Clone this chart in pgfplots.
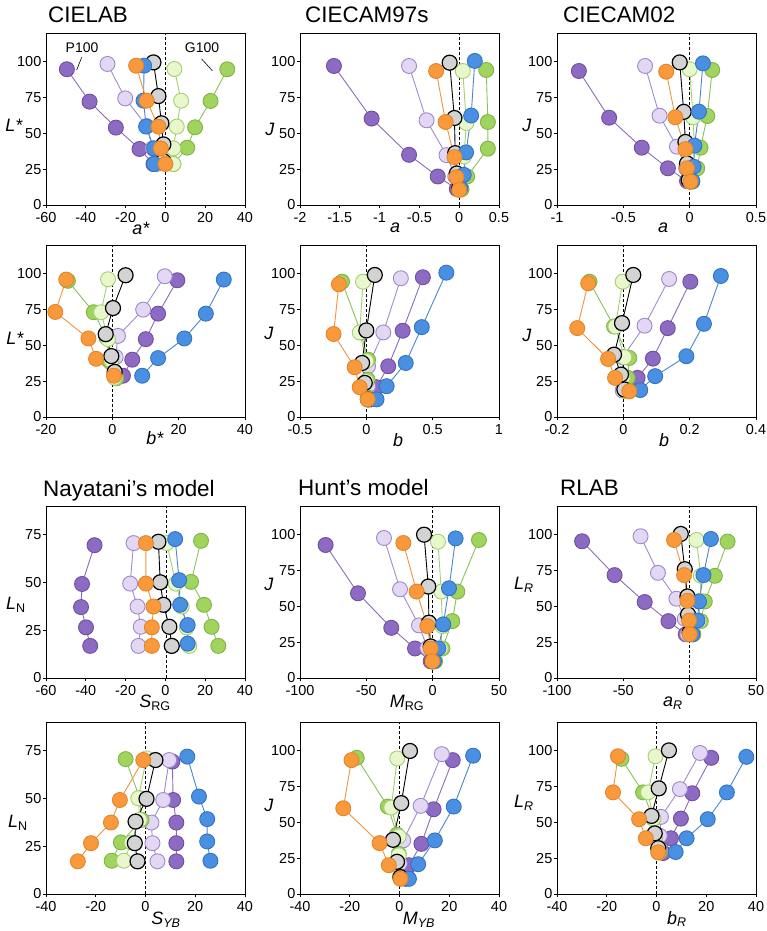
\documentclass[border=0pt]{standalone}
\usepackage{fontspec}
\setmainfont{Liberation Sans}
\usepackage{pgfplots}
\pgfplotsset{compat=1.18}
\definecolor{dpf}{HTML}{8E6BC2}\definecolor{dpe}{HTML}{6E4F9E}\definecolor{dpl}{HTML}{8A6DB5}
\definecolor{lpf}{HTML}{E3D7F3}\definecolor{lpe}{HTML}{9D89C9}\definecolor{lpl}{HTML}{A08CC8}
\definecolor{orf}{HTML}{F89A3C}\definecolor{ore}{HTML}{E6842A}\definecolor{orl}{HTML}{F0923E}
\definecolor{blf}{HTML}{4A90E2}\definecolor{ble}{HTML}{3373BF}\definecolor{bll}{HTML}{4A86C8}
\definecolor{grf}{HTML}{A0D45E}\definecolor{gre}{HTML}{7FB545}\definecolor{grl}{HTML}{8CC05A}
\definecolor{lgf}{HTML}{E8F8CC}\definecolor{lge}{HTML}{A5CF70}\definecolor{lgl}{HTML}{A5CF70}
\definecolor{bkf}{HTML}{D3D3D3}
\pgfplotsset{
 ser/.style n args={3}{color=#1, line width=0.9bp, mark=*, mark size=7.5bp, mark options={solid, fill=#2, draw=#3, line width=0.9bp}},
 dp/.style={ser={dpl}{dpf}{dpe}},
 lp/.style={ser={lpl}{lpf}{lpe}},
 or/.style={ser={orl}{orf}{ore}},
 bl/.style={ser={bll}{blf}{ble}},
 gr/.style={ser={grl}{grf}{gre}},
 lg/.style={ser={lgl}{lgf}{lge}},
 bk/.style={color=black, line width=0.9bp, mark=*, mark size=7.5bp, mark options={solid, fill=bkf, draw=black, line width=1.2bp}},
 zl/.style={black, dash pattern=on 3bp off 2bp, line width=0.8bp, mark=none},
 panel/.style={scale only axis, width=199bp, height=172bp, clip=false, scaled ticks=false,
   tick align=outside, xtick pos=left, ytick pos=left, major tick length=3bp,
   axis line style={line width=0.7bp, black}, tick style={line width=0.7bp, black},
   ticklabel style={font=\fontsize{14.5}{16}\selectfont, inner sep=1.5bp},
   xticklabel style={yshift=-3bp},
   /pgf/number format/assume math mode=true, anchor=south west},
}
\newcommand{\lab}{\fontsize{18}{20}\selectfont}
\newcommand{\ttl}{\fontsize{22.5}{24}\selectfont}
\begin{document}
\begin{tikzpicture}
\path[use as bounding box] (0,0) rectangle (767bp,-931bp);
% ---------------- Row 1 ----------------
\begin{axis}[panel, at={(46bp,-205bp)}, xmin=-60, xmax=40, ymin=0, ymax=120, xtick={-60,-40,-20,0,20,40}, ytick={0,25,50,75,100}]
\addplot[dp] coordinates {(-49.5,94.7)(-38.1,72.1)(-24.9,54.0)(-13.0,39.1)(-6,28.6)};
\addplot[lp] coordinates {(-29.1,98.4)(-20.2,74.4)(-9.4,55.1)(-6.4,39.5)(-4.3,28.6)};
\addplot[gr] coordinates {(31.1,94.7)(22.7,72.6)(14.9,54.2)(11.0,40.0)(4.0,28.6)};
\addplot[lg] coordinates {(4.5,94.9)(7.9,72.8)(5.7,54.7)(4.0,39.5)(4.0,28.6)};
\addplot[bk] coordinates {(-6.0,99.5)(-3.5,76.0)(-2.0,57.0)(-1.0,42.3)(-1.0,30.5)};
\addplot[bl] coordinates {(-10.7,97.2)(-11.0,72.8)(-9.7,54.7)(-5.7,39.5)(-5.7,28.6)};
\addplot[or] coordinates {(-14.7,97.2)(-9.4,72.8)(-3.5,54.7)(-2.3,39.5)(0,28.6)};
\addplot[zl] coordinates {(0,0)(0,120)};
\end{axis}
\begin{axis}[panel, at={(300bp,-205bp)}, xmin=-2, xmax=0.5, ymin=0, ymax=120, xtick={-2,-1.5,-1,-0.5,0,0.5}, ytick={0,25,50,75,100}]
\addplot[dp] coordinates {(-1.574,97.0)(-1.10,60.3)(-0.63,35.0)(-0.27,19.9)(-0.03,11.2)};
\addplot[lp] coordinates {(-0.63,97.0)(-0.41,59.1)(-0.16,34.8)(-0.05,19.9)(0,11.7)};
\addplot[gr] coordinates {(0.34,94.2)(0.36,57.9)(0.36,39.3)(0.10,19.9)(0.03,11)};
\addplot[lg] coordinates {(0.045,93.5)(0.09,57.2)(0.06,33.9)(0.06,21)(0.015,11)};
\addplot[bk] coordinates {(-0.12,99.3)(-0.06,60.7)(-0.05,36.2)(-0.03,22)(0,11.7)};
\addplot[bl] coordinates {(0.196,100.5)(0.15,62.4)(0.086,36.7)(0.057,21)(0.015,11.7)};
\addplot[or] coordinates {(-0.29,93.5)(-0.17,57.9)(-0.06,33.4)(-0.035,19.4)(0,10.5)};
\addplot[zl] coordinates {(0,0)(0,120)};
\end{axis}
\begin{axis}[panel, at={(557bp,-205bp)}, xmin=-1, xmax=0.5, ymin=0, ymax=120, xtick={-1,-0.5,0,0.5}, ytick={0,25,50,75,100}]
\addplot[dp] coordinates {(-0.835,93.5)(-0.607,60.9)(-0.361,40.0)(-0.164,25.6)(-0.02,16.7)};
\addplot[lp] coordinates {(-0.336,97)(-0.227,62.3)(-0.096,40.7)(-0.027,25.6)(-0.007,16.7)};
\addplot[gr] coordinates {(0.17,94.2)(0.133,62.1)(0.082,40)(0.057,25.6)(0.02,16.3)};
\addplot[lg] coordinates {(0,94.7)(0.026,61.2)(0.036,40.7)(0.03,25.6)(0.006,16.3)};
\addplot[bk] coordinates {(-0.075,99.5)(-0.045,65)(-0.032,44)(-0.02,29)(-0.007,17.4)};
\addplot[bl] coordinates {(0.1,98.8)(0.07,65.1)(0.036,41.4)(0.03,26.7)(0.02,16.7)};
\addplot[or] coordinates {(-0.177,93)(-0.108,61.2)(-0.032,39)(-0.02,25.6)(0.006,16.3)};
\addplot[zl] coordinates {(0,0)(0,120)};
\end{axis}
% ---------------- Row 2 ----------------
\begin{axis}[panel, at={(46bp,-417bp)}, xmin=-20, xmax=40, ymin=0, ymax=120, xtick={-20,0,20,40}, ytick={0,25,50,75,100}]
\addplot[dp] coordinates {(19.6,95.4)(13.8,72.1)(10.1,54.3)(6.0,40.0)(3.2,28.8)};
\addplot[lp] coordinates {(15.8,98.2)(9.3,74.9)(1.7,56.6)(1.0,41.8)(0.7,30.4)};
\addplot[gr] coordinates {(-13.4,95)(-5.6,73.1)(-1.8,55.5)(-0.8,39.5)(1.2,27)};
\addplot[lg] coordinates {(-1.3,96.1)(-3.4,73.1)(-1.3,54.3)(-0.3,39.5)(0.7,27.4)};
\addplot[bk] coordinates {(4.0,98.9)(0.2,76.0)(-2.0,57.8)(-0.3,42.5)(0.7,31.5)};
\addplot[bl] coordinates {(33.6,95.9)(28.2,72.1)(21.7,54.8)(13.8,41.1)(9.0,28.8)};
\addplot[or] coordinates {(-13.9,95.9)(-17.2,73.3)(-7.2,54.8)(-4.9,40.6)(0.5,28.8)};
\addplot[zl] coordinates {(0,0)(0,120)};
\end{axis}
\begin{axis}[panel, at={(300bp,-417bp)}, xmin=-0.5, xmax=1, ymin=0, ymax=120, xtick={-0.5,0,0.5,1}, ytick={0,25,50,75,100}]
\addplot[dp] coordinates {(0.426,97.5)(0.274,60.2)(0.165,35.4)(0.077,20.8)(0.039,12.3)};
\addplot[lp] coordinates {(0.26,96.8)(0.128,59)(0.013,35.4)(0.013,21.5)(0.026,12.3)};
\addplot[gr] coordinates {(-0.183,94.4)(-0.041,59)(0.013,40)(0.01,26)(0.02,13.4)};
\addplot[lg] coordinates {(-0.025,94.4)(-0.05,59)(0,38.9)(0,25)(0.01,13)};
\addplot[bk] coordinates {(0.064,99.1)(0,60.4)(-0.032,37.7)(-0.012,23.8)(0.013,12.3)};
\addplot[bl] coordinates {(0.603,100.7)(0.418,62.7)(0.297,37.7)(0.153,21.5)(0.077,12.3)};
\addplot[or] coordinates {(-0.207,92.6)(-0.247,57.9)(-0.088,34.7)(-0.05,20.8)(0.01,12.3)};
\addplot[zl] coordinates {(0,0)(0,120)};
\end{axis}
\begin{axis}[panel, at={(557bp,-417bp)}, xmin=-0.2, xmax=0.4, ymin=0, ymax=120, xtick={-0.2,0,0.2,0.4}, ytick={0,25,50,75,100}]
\addplot[dp] coordinates {(0.202,94.4)(0.134,62)(0.089,40.7)(0.043,27.3)(0.013,18)};
\addplot[lp] coordinates {(0.138,96.3)(0.064,63.7)(-0.002,41.7)(-0.002,28.5)(-0.002,18.5)};
\addplot[gr] coordinates {(-0.102,94.4)(-0.028,63.2)(0.018,41.2)(0.013,27.3)(0.018,18)};
\addplot[lg] coordinates {(-0.002,94.4)(-0.024,63.2)(0.003,41.7)(-0.002,27.3)(0.008,18)};
\addplot[bk] coordinates {(0.03,99.1)(-0.004,65.5)(-0.028,43.5)(-0.007,29.6)(0.003,19.2)};
\addplot[bl] coordinates {(0.294,98.4)(0.243,65)(0.19,42.4)(0.096,28.5)(0.051,18.8)};
\addplot[or] coordinates {(-0.106,93.3)(-0.139,62.0)(-0.046,40.5)(-0.025,27.3)(0.018,18)};
\addplot[zl] coordinates {(0,0)(0,120)};
\end{axis}
% ---------------- Row 3 ----------------
\begin{axis}[panel, at={(46bp,-678bp)}, xmin=-60, xmax=40, ymin=0, ymax=90, xtick={-60,-40,-20,0,20,40}, ytick={0,25,50,75}]
\addplot[dp] coordinates {(-35.6,69.5)(-41.9,49.2)(-42.4,37.1)(-39.9,26.5)(-37.8,16.8)};
\addplot[lp] coordinates {(-16.0,70.6)(-17.7,49.4)(-14.0,37.4)(-12.4,26.8)(-13.5,16.8)};
\addplot[gr] coordinates {(17.9,71.8)(12.9,50.3)(19.4,38.3)(23.2,26.8)(26.6,16.8)};
\addplot[lg] coordinates {(0.7,70.6)(5.2,49.4)(8.2,37.4)(10.7,26.5)(12.0,16.8)};
\addplot[bk] coordinates {(-3.5,71.3)(-2.6,50.1)(-1.0,38.3)(2.0,26.8)(3.2,16.8)};
\addplot[bl] coordinates {(4.9,72.7)(6.9,51.2)(7.4,38.3)(11.2,27.7)(11.2,18)};
\addplot[or] coordinates {(-9.8,70.6)(-9.8,49.4)(-6.0,37.4)(-6.8,26.5)(-6.8,16.8)};
\addplot[zl] coordinates {(0.5,0)(0.5,90)};
\end{axis}
\begin{axis}[panel, at={(300bp,-678bp)}, xmin=-100, xmax=50, ymin=0, ymax=120, xtick={-100,-50,0,50}, ytick={0,25,50,75,100}]
\addplot[dp] coordinates {(-80.7,92.8)(-56.3,59.1)(-31.2,35.0)(-13.3,20.6)(-1.5,11.7)};
\addplot[lp] coordinates {(-36.7,97.7)(-24.6,61.9)(-10.3,36.7)(-4.0,21.0)(-0.8,11.7)};
\addplot[gr] coordinates {(34.9,96.3)(18.6,60.3)(14.8,39.7)(7.3,20.6)(1.8,11.7)};
\addplot[lg] coordinates {(4.0,95.1)(6.5,60.3)(7.3,36.2)(6.0,20.6)(1.0,11.7)};
\addplot[bk] coordinates {(-6.5,100)(-3.3,63.8)(-2.8,38.6)(-1.5,22)(-0.3,11.7)};
\addplot[bl] coordinates {(17.3,97.4)(12.3,62.6)(8.0,37.4)(4.3,20.6)(1.0,11.7)};
\addplot[or] coordinates {(-22.1,94.2)(-12.1,60.3)(-4.0,36.2)(-1.5,20.6)(-0.3,11.7)};
\addplot[zl] coordinates {(0,0)(0,120)};
\end{axis}
\begin{axis}[panel, at={(557bp,-678bp)}, xmin=-100, xmax=50, ymin=0, ymax=120, xtick={-100,-50,0,50}, ytick={0,25,50,75,100}]
\addplot[dp] coordinates {(-81.1,95.4)(-56.6,71.8)(-33.9,53.0)(-16.0,39.7)(-2.9,30.5)};
\addplot[lp] coordinates {(-37.0,98.9)(-23.9,73.4)(-10.0,55.3)(-3.7,41.3)(-1.7,30.5)};
\addplot[gr] coordinates {(28.6,95.2)(19.0,71.3)(11.4,53.4)(8.4,39.7)(2.8,30.5)};
\addplot[lg] coordinates {(5.1,96.3)(8.4,71.3)(7.9,53.9)(7.1,39.7)(2.1,30.5)};
\addplot[bk] coordinates {(-6.7,100.5)(-3.7,75.9)(-1.7,56.9)(-1.2,44.3)(0,31.7)};
\addplot[bl] coordinates {(16.0,97.0)(10.4,71.8)(7.1,53.4)(5.9,40.1)(2.1,30.5)};
\addplot[or] coordinates {(-11.8,96.3)(-4.2,71.8)(-1.7,53.9)(-0.4,40.1)(0,30.5)};
\addplot[zl] coordinates {(0,0)(0,120)};
\end{axis}
% ---------------- Row 4 ----------------
\begin{axis}[panel, at={(46bp,-894bp)}, xmin=-40, xmax=40, ymin=0, ymax=90, xtick={-40,-20,0,20,40}, ytick={0,25,50,75}]
\addplot[dp] coordinates {(10.8,69.3)(11.1,49.2)(12.4,37.4)(12.4,26.6)(12.4,17.1)};
\addplot[lp] coordinates {(9.5,70.1)(7.1,49.2)(2.4,37.4)(2.8,26.6)(4.8,17.1)};
\addplot[gr] coordinates {(-8.0,70.6)(-2.3,50.1)(-1.6,38.8)(-9.9,27.0)(-13.6,17.4)};
\addplot[lg] coordinates {(0.4,71.0)(-2.9,50.1)(-2.3,38.8)(-5.6,27.0)(-8.7,17.4)};
\addplot[bk] coordinates {(4.0,70.1)(0.4,49.8)(-4.0,37.9)(-4.3,26.6)(-3.2,17.1)};
\addplot[bl] coordinates {(16.8,71.9)(21.5,51.0)(24.8,39.2)(24.8,27.5)(26.1,17.4)};
\addplot[or] coordinates {(-0.9,70.1)(-10.3,49.2)(-13.9,37.4)(-21.9,26.6)(-27.2,17.1)};
\addplot[zl] coordinates {(0,0)(0,90)};
\end{axis}
\begin{axis}[panel, at={(300bp,-894bp)}, xmin=-40, xmax=40, ymin=0, ymax=120, xtick={-40,-20,0,20,40}, ytick={0,25,50,75,100}]
\addplot[dp] coordinates {(21.4,93.4)(13.7,59.1)(8.8,35.0)(3.8,20.1)(2.4,10.6)};
\addplot[lp] coordinates {(17.0,97.6)(8.5,61.5)(1.5,37.4)(0.1,21.3)(1.1,11.3)};
\addplot[gr] coordinates {(-17.2,95)(-4.7,61)(-1,41.4)(-0.3,28)(0.4,11.8)};
\addplot[lg] coordinates {(-0.9,94.6)(-3.3,60.3)(-0.3,40.2)(-0.3,27)(0.1,11.8)};
\addplot[bk] coordinates {(4.2,99.8)(0.7,63.4)(-2.6,37.8)(-1,22.5)(0.4,11.8)};
\addplot[bl] coordinates {(29.6,96.5)(21.8,61.0)(14.2,37.4)(7.5,20.8)(3.8,10.6)};
\addplot[or] coordinates {(-19.3,93.4)(-22.6,59.8)(-8.0,35.5)(-4.3,20.1)(0.4,10.6)};
\addplot[zl] coordinates {(0,0)(0,120)};
\end{axis}
\begin{axis}[panel, at={(557bp,-894bp)}, xmin=-40, xmax=40, ymin=0, ymax=120, xtick={-40,-20,0,20,40}, ytick={0,25,50,75,100}]
\addplot[dp] coordinates {(22.0,95.0)(14.4,70.3)(9.8,52.6)(5.8,38.9)(2.7,28.6)};
\addplot[lp] coordinates {(17.5,98.4)(9.4,73.2)(1.8,53.8)(1.3,40.7)(1.6,29.7)};
\addplot[gr] coordinates {(-14.1,94.3)(-5.4,70.9)(-1.3,52.6)(-0.7,38.9)(1.1,29.1)};
\addplot[lg] coordinates {(-0.4,96.1)(-3.4,70.9)(-1.3,52.6)(-0.7,38.9)(0.7,29.1)};
\addplot[bk] coordinates {(5.0,100.2)(0.9,73.7)(-2.0,54.5)(-0.7,42.3)(0.7,32)};
\addplot[bl] coordinates {(36.1,95.7)(28.3,70.9)(20.6,52.2)(12.1,38.9)(7.7,29.3)};
\addplot[or] coordinates {(-15.5,96.1)(-17.5,70.9)(-7.0,52.2)(-4.3,38.9)(0.7,29.1)};
\addplot[zl] coordinates {(0,0)(0,120)};
\end{axis}
% ---------------- Titles ----------------
\node[anchor=base west, font=\ttl, inner sep=0] at (48bp,-22bp) {CIELAB};
\node[anchor=base west, font=\ttl, inner sep=0] at (305bp,-22bp) {CIECAM97s};
\node[anchor=base west, font=\ttl, inner sep=0] at (563bp,-22bp) {CIECAM02};
\node[anchor=base west, font=\ttl, inner sep=0] at (43bp,-496bp) {Nayatani’s model};
\node[anchor=base west, font=\ttl, inner sep=0] at (298bp,-495bp) {Hunt’s model};
\node[anchor=base west, font=\ttl, inner sep=0] at (560bp,-495bp) {RLAB};
% ---------------- P100 / G100 ----------------
\node[font=\fontsize{14}{16}\selectfont, inner sep=0] at (82bp,-48bp) {P100};
\node[font=\fontsize{14}{16}\selectfont, inner sep=0] at (202bp,-48bp) {G100};
\draw[line width=0.6bp] (81.7bp,-57.3bp) -- (76.7bp,-70bp);
\draw[line width=0.6bp] (201.7bp,-59bp) -- (212.3bp,-70.7bp);
% ---------------- Axis labels ----------------
\node[font=\lab, inner sep=0] at (141bp,-228bp) {\textit{a*}};
\node[font=\lab, inner sep=0] at (395bp,-228bp) {\textit{a}};
\node[font=\lab, inner sep=0] at (663bp,-228bp) {\textit{a}};
\node[font=\lab, inner sep=0] at (155bp,-438bp) {\textit{b*}};
\node[font=\lab, inner sep=0] at (398bp,-440bp) {\textit{b}};
\node[font=\lab, inner sep=0] at (664bp,-440bp) {\textit{b}};
\node[font=\lab, inner sep=0] at (155bp,-703bp) {\textit{S}\textsubscript{RG}};
\node[font=\lab, inner sep=0] at (407bp,-703bp) {\textit{M}\textsubscript{RG}};
\node[font=\lab, inner sep=0] at (673bp,-703bp) {\textit{a}\textsubscript{\textit{R}}};
\node[font=\lab, inner sep=0] at (166bp,-920bp) {\textit{S}\textsubscript{\textit{YB}}};
\node[font=\lab, inner sep=0] at (419bp,-920bp) {\textit{M}\textsubscript{\textit{YB}}};
\node[font=\lab, inner sep=0] at (677bp,-919bp) {\textit{b}\textsubscript{\textit{R}}};
\node[font=\lab, inner sep=0] at (14bp,-125bp) {\textit{L*}};
\node[font=\lab, inner sep=0] at (270bp,-129bp) {\textit{J}};
\node[font=\lab, inner sep=0] at (527bp,-125bp) {\textit{J}};
\node[font=\lab, inner sep=0] at (15bp,-338bp) {\textit{L*}};
\node[font=\lab, inner sep=0] at (269bp,-333bp) {\textit{J}};
\node[font=\lab, inner sep=0] at (527bp,-335bp) {\textit{J}};
\node[font=\lab, inner sep=0] at (16bp,-605bp) {\textit{L}\textsubscript{N}};
\node[font=\lab, inner sep=0] at (269bp,-584bp) {\textit{J}};
\node[font=\lab, inner sep=0] at (524bp,-585bp) {\textit{L}\textsubscript{\textit{R}}};
\node[font=\lab, inner sep=0] at (18bp,-823bp) {\textit{L}\textsubscript{N}};
\node[font=\lab, inner sep=0] at (269bp,-805bp) {\textit{J}};
\node[font=\lab, inner sep=0] at (524bp,-803bp) {\textit{L}\textsubscript{\textit{R}}};
\end{tikzpicture}
\end{document}
